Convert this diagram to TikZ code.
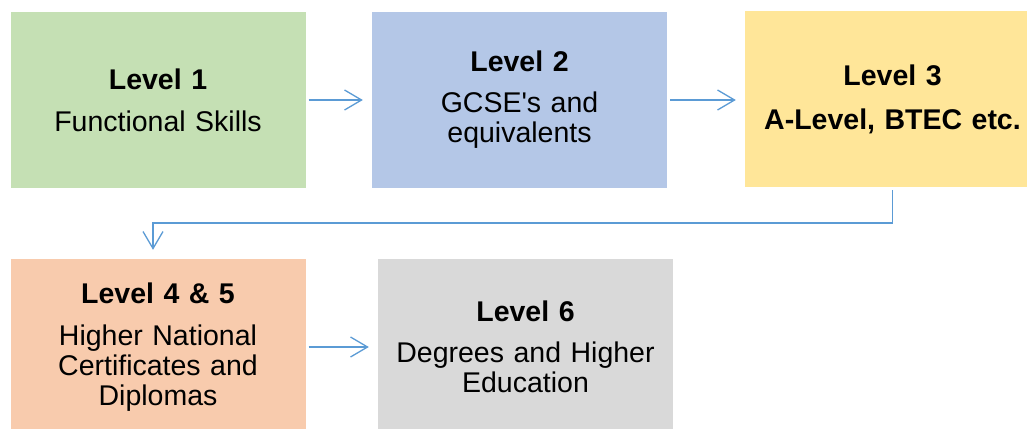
\documentclass[tikz,border=0pt]{standalone}
\usepackage{fontspec}
\setmainfont{Liberation Sans}
\usetikzlibrary{arrows.meta,calc}
\definecolor{cgreen}{HTML}{C5E0B4}
\definecolor{cblue}{HTML}{B4C7E7}
\definecolor{cyellow}{HTML}{FFE699}
\definecolor{corange}{HTML}{F8CBAD}
\definecolor{cgrey}{HTML}{D9D9D9}
\definecolor{cline}{HTML}{5B9BD5}
\tikzset{
  lvbox/.style={minimum width=295pt, minimum height=176pt, inner sep=0pt,
    text width=290pt, align=center, font=\fontsize{28.5}{30}\selectfont},
  conn/.style={draw=cline, line width=1.3pt,
    -{Straight Barb[length=17pt, width=20pt, line width=1.3pt]},
    shorten <=3pt, shorten >=9pt}
}
\begin{document}
\begin{tikzpicture}[x=1pt, y=-1pt]
\useasboundingbox (0,0) rectangle (1027,428);
\clip (0,0) rectangle (1027,428);
\fill[white] (0,0) rectangle (1027,428);
\node[lvbox, fill=cgreen] (b1) at (158,100) {\textbf{Level 1}\\[12pt]Functional Skills};
\node[lvbox, fill=cblue] (b2) at (519.5,100) {\textbf{Level 2}\\[11pt]GCSE\textquotesingle s and\\equivalents};
\node[lvbox, fill=cyellow] (b3) at (892.5,99) {\textbf{Level 3}\\[14pt]\textbf{A-Level, BTEC etc.}};
\node[lvbox, fill=corange] (b4) at (158,347) {\textbf{Level 4 \& 5}\\[12pt]Higher National\\Certificates and\\Diplomas};
\node[lvbox, fill=cgrey] (b5) at (525.5,347) {\textbf{Level 6}\\[11pt]Degrees and Higher\\Education};
\coordinate (m) at ($(b3.south)!0.5!(b3.south |- b4.north)$);
\coordinate (e4) at ($(b4.north)+(-5,0)$);
\draw[conn] (b1.east) -- (b1.east -| b2.west);
\draw[conn] (b2.east) -- (b2.east -| b3.west);
\draw[conn] (b3.south) -- (m) -- (m -| e4) -- (e4);
\draw[conn] (b4.east |- b5.center) -- (b5.west);
\end{tikzpicture}
\end{document}
